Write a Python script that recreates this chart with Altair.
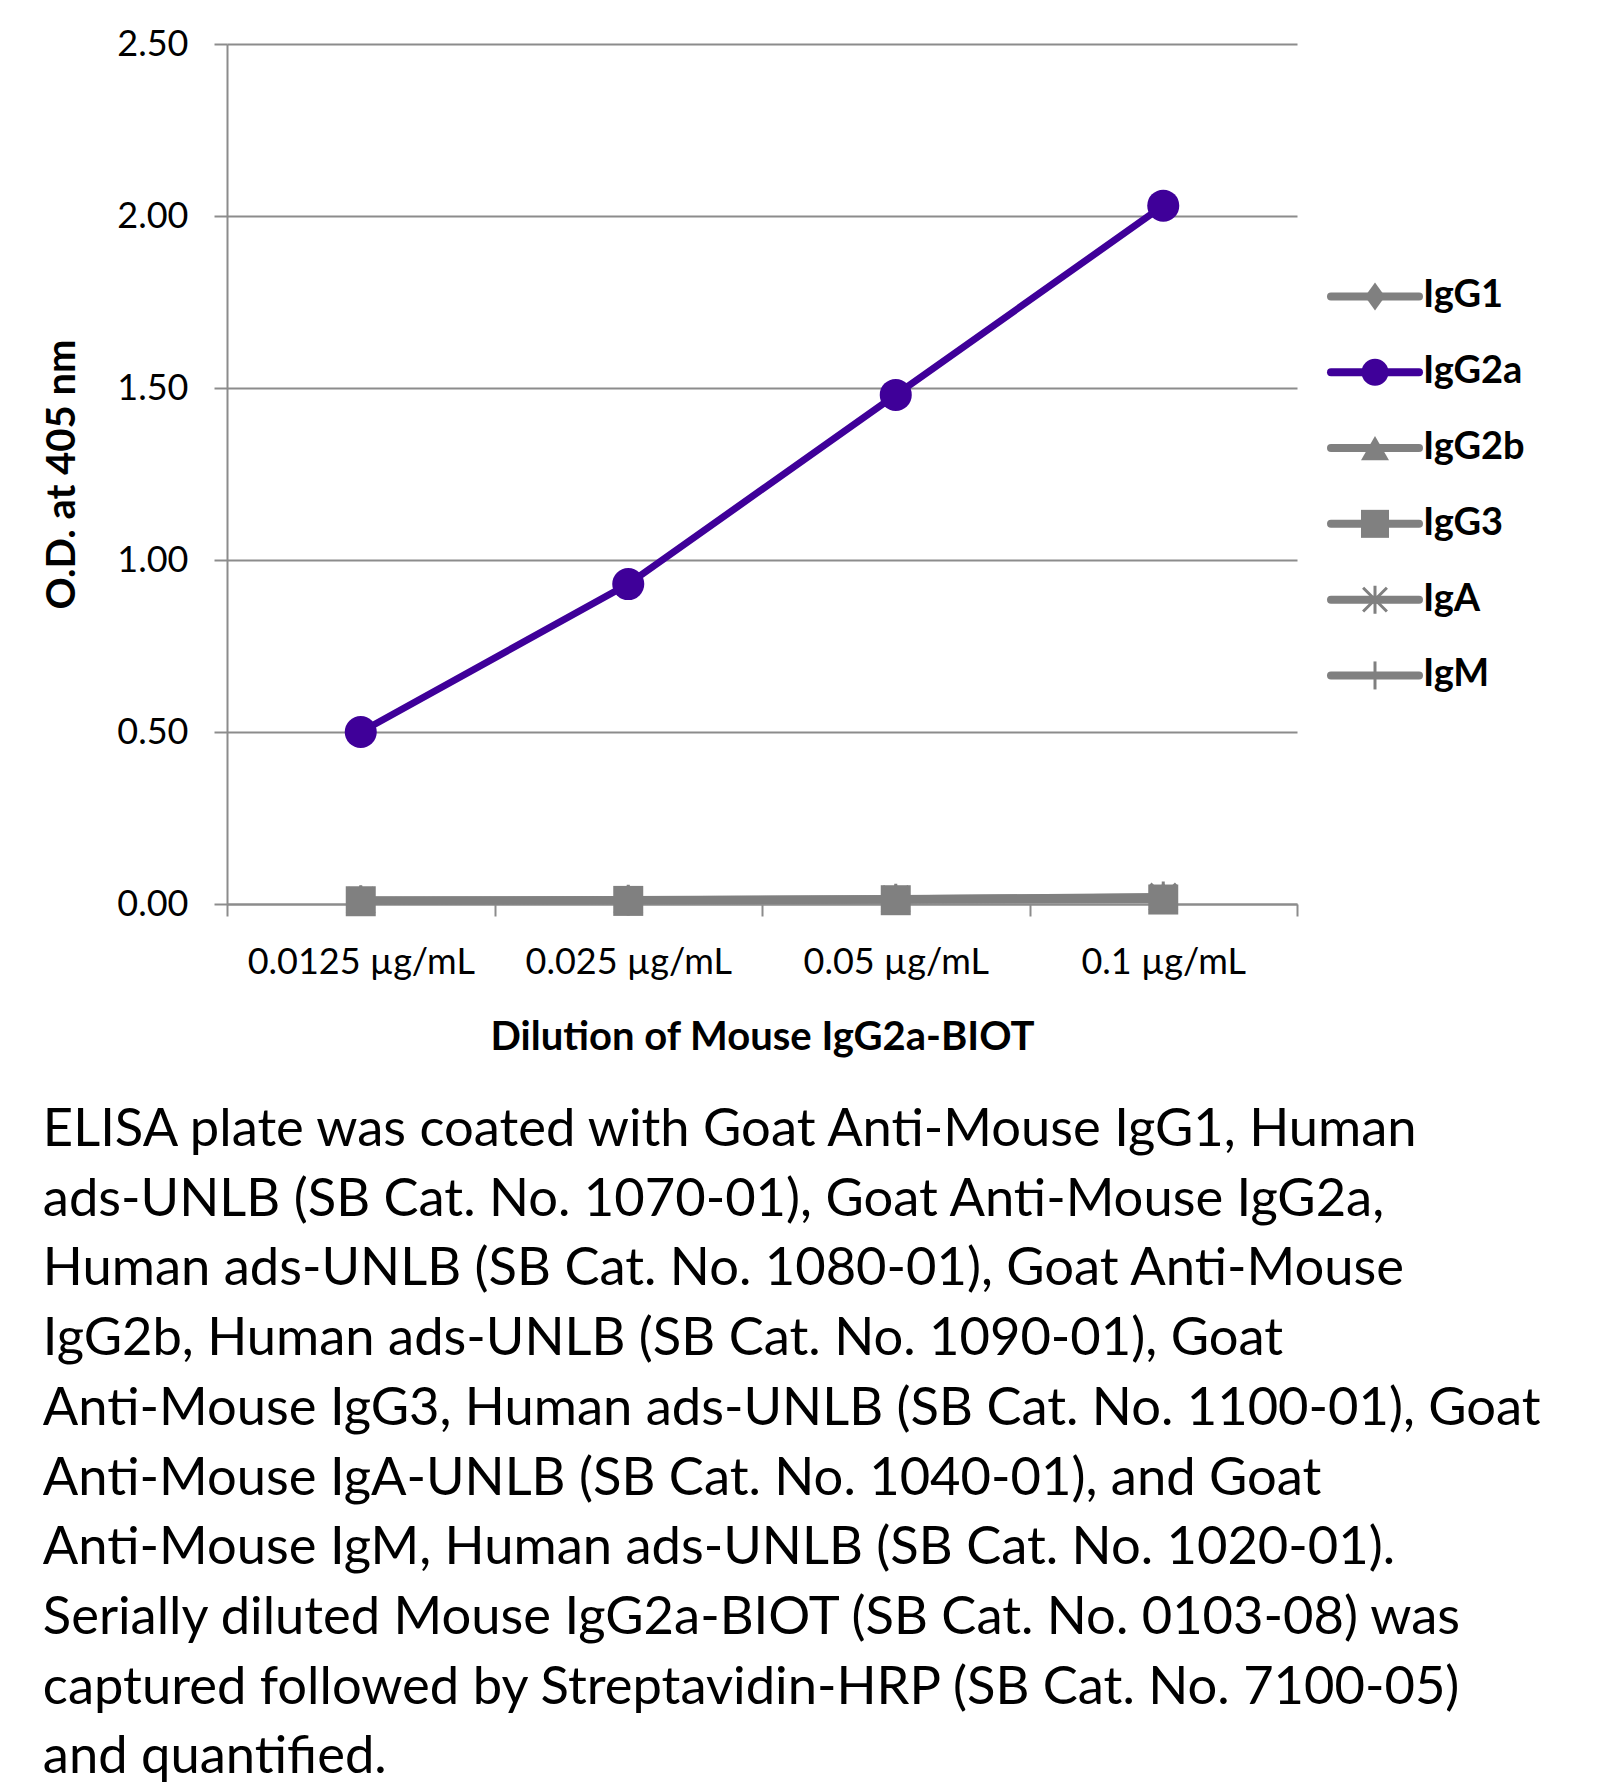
import altair as alt
import pandas as pd

# ---------------- data ----------------
doses = ["0.0125 µg/mL", "0.025 µg/mL", "0.05 µg/mL", "0.1 µg/mL"]
series = ["IgG1", "IgG2a", "IgG2b", "IgG3", "IgA", "IgM"]
igg1 = [0.010, 0.011, 0.013, 0.016]
igg2a = [0.50, 0.93, 1.48, 2.03]
igg2b = [0.012, 0.013, 0.016, 0.020]
igg3 = [0.008, 0.009, 0.011, 0.013]
iga = [0.011, 0.012, 0.015, 0.022]
igm = [0.009, 0.010, 0.012, 0.015]
y_ticks = [0, 0.5, 1.0, 1.5, 2.0, 2.5]
x_title = "Dilution of Mouse IgG2a-BIOT"
y_title = "O.D. at 405 nm"
caption_lines = [
    "ELISA plate was coated with Goat Anti-Mouse IgG1, Human",
    "ads-UNLB (SB Cat. No. 1070-01), Goat Anti-Mouse IgG2a,",
    "Human ads-UNLB (SB Cat. No. 1080-01), Goat Anti-Mouse",
    "IgG2b, Human ads-UNLB (SB Cat. No. 1090-01), Goat",
    "Anti-Mouse IgG3, Human ads-UNLB (SB Cat. No. 1100-01), Goat",
    "Anti-Mouse IgA-UNLB (SB Cat. No. 1040-01), and Goat",
    "Anti-Mouse IgM, Human ads-UNLB (SB Cat. No. 1020-01).",
    "Serially diluted Mouse IgG2a-BIOT (SB Cat. No. 0103-08) was",
    "captured followed by Streptavidin-HRP (SB Cat. No. 7100-05)",
    "and quantified.",
]

# ---------------- styles ----------------
GRAY = "#808080"
PURPLE = "#3f0099"
AXIS_GRAY = "#8c8c8c"
FONT = "Lato"
colors = [GRAY, PURPLE, GRAY, GRAY, GRAY, GRAY]
shapes = [
    "M0,-1L0.72,0L0,1L-0.72,0Z",          # diamond
    "circle",
    "triangle-up",
    "square",
    "M-0.85,-0.85L0.85,0.85M-0.85,0.85L0.85,-0.85M0,-1L0,1",  # asterisk
    "M0,-1L0,1",                           # vertical bar
]

values = {"IgG1": igg1, "IgG2a": igg2a, "IgG2b": igg2b,
          "IgG3": igg3, "IgA": iga, "IgM": igm}
rows = []
for s in series:
    for i, d in enumerate(doses):
        rows.append({"series": s, "idx": i + 1, "dose": d, "od": values[s][i]})
df = pd.DataFrame(rows)

color_enc = alt.Color("series:N", scale=alt.Scale(domain=series, range=colors), legend=None)
shape_enc = alt.Shape("series:N", scale=alt.Scale(domain=series, range=shapes), legend=None)

label_arr = "[" + ",".join("'" + d + "'" for d in doses) + "]"
x_axis = alt.Axis(
    values=[0.5, 1, 1.5, 2, 2.5, 3, 3.5, 4, 4.5],
    labelExpr=f"datum.value % 1 === 0 ? {label_arr}[datum.value - 1] : ''",
    tickOpacity={"condition": {"test": "datum.value % 1 === 0", "value": 0}, "value": 1},
    tickSize=12, tickWidth=2, tickColor=AXIS_GRAY,
    domainColor=AXIS_GRAY, domainWidth=2,
    grid=False, labelOverlap=False, labelLimit=600,
    labelFont=FONT, labelFontSize=36, labelColor="black", labelPadding=29,
    title=x_title, titleFont=FONT, titleFontSize=40, titleFontWeight="bold",
    titleColor="black", titlePadding=37,
)
y_axis = alt.Axis(
    values=y_ticks, format=".2f",
    grid=True, gridColor=AXIS_GRAY, gridWidth=2,
    domainColor=AXIS_GRAY, domainWidth=2,
    tickSize=13, tickWidth=2, tickColor=AXIS_GRAY,
    labelFont=FONT, labelFontSize=36, labelColor="black", labelPadding=26,
    title=y_title, titleFont=FONT, titleFontSize=40, titleFontWeight="bold",
    titleColor="black", titlePadding=34,
)

X = alt.X("idx:Q", scale=alt.Scale(domain=[0.5, 4.5], nice=False, zero=False), axis=x_axis)
Y = alt.Y("od:Q", scale=alt.Scale(domain=[0, 2.5], nice=False), axis=y_axis)

base = alt.Chart(df)
gray_f = alt.datum.series != "IgG2a"

gray_lines = base.transform_filter(gray_f).mark_line(strokeWidth=7, strokeCap="round").encode(
    x=X, y=Y, color=color_enc, detail="series:N")
gray_pts_fill = base.transform_filter(
    alt.FieldOneOfPredicate(field="series", oneOf=["IgG1", "IgG2b", "IgG3"])
).mark_point(filled=True, size=900, opacity=1).encode(x=X, y=Y, color=color_enc, shape=shape_enc)
gray_pts_stroke = base.transform_filter(
    alt.FieldOneOfPredicate(field="series", oneOf=["IgA", "IgM"])
).mark_point(filled=False, size=900, strokeWidth=3, opacity=1).encode(x=X, y=Y, color=color_enc, shape=shape_enc)
purple_line = base.transform_filter(alt.datum.series == "IgG2a").mark_line(
    strokeWidth=7, strokeCap="round").encode(x=X, y=Y, color=color_enc)
purple_pts = base.transform_filter(alt.datum.series == "IgG2a").mark_point(
    filled=True, size=1024, opacity=1).encode(x=X, y=Y, color=color_enc, shape=shape_enc)

main = alt.layer(gray_lines, gray_pts_fill, gray_pts_stroke, purple_line, purple_pts).properties(
    width=1070, height=860)

# ---------------- legend panel ----------------
series_js = "[" + ",".join("'" + s + "'" for s in series) + "]"
leg_df = pd.DataFrame({"series": series})
LY = alt.Y("rank:Q", scale=alt.Scale(domain=[-3.33, 8.015], reverse=True, nice=False, zero=False),
           axis=None)
lx_scale = alt.Scale(domain=[0, 1])
leg_base = alt.Chart(leg_df).transform_calculate(rank=f"indexof({series_js}, datum.series)")
leg_rule = leg_base.mark_rule(strokeWidth=8, strokeCap="round").encode(
    x=alt.datum(0, scale=lx_scale, axis=None), x2=alt.datum(1), y=LY, color=color_enc)
leg_fill = leg_base.transform_filter(
    alt.FieldOneOfPredicate(field="series", oneOf=["IgG1", "IgG3", "IgG2b"])
).mark_point(filled=True, size=784, opacity=1).encode(
    x=alt.datum(0.5, scale=lx_scale, axis=None), y=LY, color=color_enc, shape=shape_enc)
leg_circle = leg_base.transform_filter(alt.datum.series == "IgG2a").mark_point(
    filled=True, size=729, opacity=1).encode(
    x=alt.datum(0.5, scale=lx_scale, axis=None), y=LY, color=color_enc, shape=shape_enc)
leg_stroke = leg_base.transform_filter(
    alt.FieldOneOfPredicate(field="series", oneOf=["IgA", "IgM"])
).mark_point(filled=False, size=784, strokeWidth=3, opacity=1).encode(
    x=alt.datum(0.5, scale=lx_scale, axis=None), y=LY, color=color_enc, shape=shape_enc)
leg_text = leg_base.mark_text(align="left", baseline="middle", dx=4, font=FONT,
                              fontSize=38, fontWeight="bold", color="black").encode(
    x=alt.datum(1, scale=lx_scale, axis=None), y=LY, text="series:N")
legend = alt.layer(leg_rule, leg_fill, leg_circle, leg_stroke, leg_text).properties(width=88, height=860)

chart = alt.hconcat(main, legend, spacing=34, bounds="flush").properties(
    title=alt.TitleParams(
        text=caption_lines, orient="bottom", anchor="start", frame="bounds",
        font=FONT, fontSize=52.5, fontWeight="normal", color="black",
        lineHeight=69.7, offset=48,
    ),
    padding={"left": 34, "top": 18, "right": 0, "bottom": 0},
    background="white",
).configure_view(stroke=None)

chart.save("out.html", embed_options={"renderer": "svg", "actions": False})
